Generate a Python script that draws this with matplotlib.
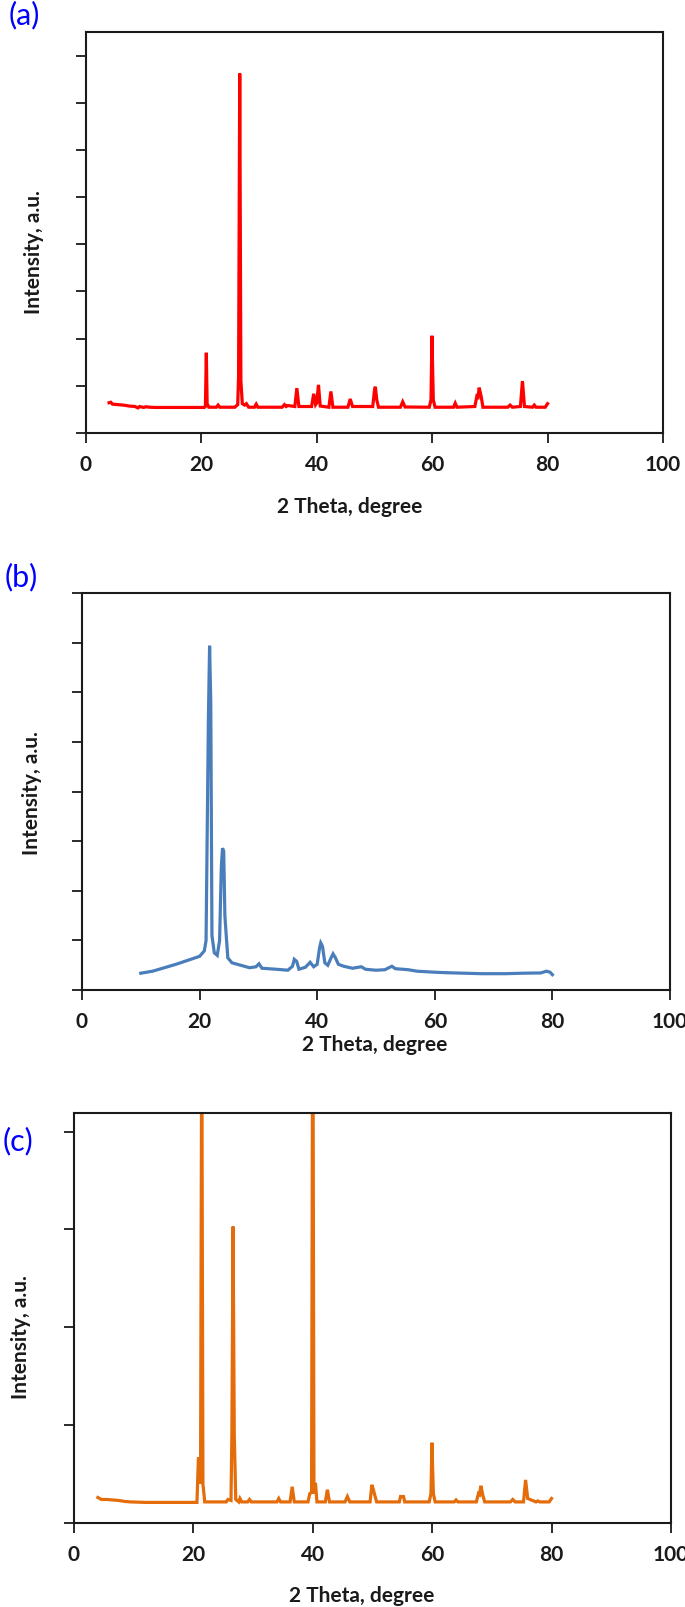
import matplotlib
matplotlib.use("Agg")
import matplotlib.pyplot as plt

plt.rcParams['font.family'] = ['Lato', 'DejaVu Sans']

# (a) sample 1 - XRD pattern (2 theta, intensity in counts, 1 tick = 1000)
theta_a = [4.0, 4.3, 4.6, 5.5, 6.5, 7.5, 8.5, 9.0, 9.3, 10.0, 10.4, 11.0, 12.0, 15.0, 18.0,
           20.5, 20.7, 20.86, 21.0, 21.3, 22.6, 22.9, 23.2, 25.8, 26.3, 26.45, 26.65, 26.85,
           27.1, 27.5, 27.8, 28.2, 29.2, 29.5, 29.8, 34.0, 34.4, 34.7, 35.0, 36.2, 36.55,
           36.9, 39.1, 39.47, 39.8, 40.0, 40.3, 40.6, 42.1, 42.45, 42.8, 45.4, 45.8, 46.2,
           49.7, 50.0, 50.15, 50.4, 50.7, 54.5, 54.9, 55.3, 59.5, 59.8, 59.96, 60.2, 60.5,
           63.7, 64.0, 64.3, 67.4, 67.75, 67.95, 68.15, 68.5, 68.8, 73.1, 73.5, 73.9, 75.3,
           75.65, 76.0, 77.4, 77.7, 78.0, 79.6, 80.0]
inten_a = [640, 650, 610, 600, 590, 570, 560, 530, 560, 540, 555, 545, 540, 540, 540,
           540, 560, 1700, 620, 545, 545, 590, 545, 545, 600, 1200, 7620, 1100,
           620, 590, 620, 545, 545, 610, 545, 545, 600, 560, 580, 560, 950,
           560, 560, 830, 600, 640, 1020, 570, 545, 880, 545, 545, 720, 560,
           560, 900, 980, 700, 545, 545, 660, 550, 545, 700, 2060, 700, 545,
           545, 630, 545, 560, 780, 760, 960, 770, 545, 545, 590, 545, 560,
           1100, 560, 545, 590, 545, 545, 620]

# (b) sample 2
theta_b = [10.0, 12.0, 14.0, 16.0, 18.0, 20.0, 20.8, 21.1, 21.5, 21.7, 21.9, 22.1, 22.5,
           23.0, 23.4, 23.7, 23.9, 24.1, 24.3, 24.5, 24.8, 25.5, 27.0, 28.5, 29.6, 30.1,
           30.6, 33.0, 35.0, 35.8, 36.1, 36.5, 36.9, 38.0, 38.8, 39.4, 40.0, 40.4, 40.6,
           40.9, 41.3, 41.8, 42.4, 42.7, 43.1, 43.6, 44.5, 46.0, 47.5, 48.2, 50.0, 51.5,
           52.7, 53.3, 54.5, 55.5, 57.0, 60.0, 62.0, 65.0, 68.0, 72.0, 75.0, 78.0, 79.0,
           79.6, 80.0]
inten_b = [340, 380, 450, 520, 600, 680, 790, 1000, 5500, 6940, 5800, 1100, 750,
           700, 1000, 2500, 2860, 2800, 1500, 1150, 650, 550, 500, 450, 470, 530,
           440, 420, 400, 480, 620, 580, 420, 460, 560, 470, 520, 850, 950,
           880, 550, 500, 660, 730, 650, 520, 480, 440, 470, 420, 400, 410,
           480, 430, 420, 410, 380, 360, 350, 340, 330, 330, 340, 345, 380,
           360, 310]

# (c) sample 3
theta_c = [4.0, 4.3, 4.6, 5.5, 6.5, 7.5, 8.5, 9.5, 12.0, 15.0, 18.0, 20.6, 20.85, 21.0,
           21.2, 21.4, 21.6, 21.9, 25.5, 25.8, 26.3, 26.45, 26.65, 26.85, 27.1, 27.6,
           27.8, 28.1, 29.1, 29.4, 29.7, 34.0, 34.3, 34.6, 36.2, 36.55, 36.9, 39.2, 39.5,
           39.8, 40.0, 40.2, 40.45, 40.7, 42.1, 42.45, 42.8, 45.4, 45.8, 46.2, 49.6, 49.9,
           50.15, 50.4, 50.7, 54.5, 54.7, 55.2, 55.4, 59.5, 59.8, 59.96, 60.2, 60.5, 63.7,
           64.0, 64.3, 67.4, 67.75, 67.95, 68.15, 68.5, 68.8, 73.1, 73.5, 73.9, 75.3, 75.65,
           76.0, 77.4, 77.7, 78.0, 79.6, 80.0]
inten_c = [260, 250, 240, 240, 235, 230, 220, 215, 210, 210, 210, 210, 670, 640,
           400, 5200, 400, 215, 215, 240, 230, 900, 3030, 900, 240, 215,
           250, 215, 215, 240, 215, 215, 250, 215, 215, 370, 215, 215, 300,
           310, 6000, 300, 410, 215, 215, 340, 215, 215, 270, 215, 215, 390,
           340, 280, 215, 215, 270, 270, 215, 215, 300, 820, 300, 215, 215,
           235, 215, 215, 300, 290, 380, 280, 215, 215, 240, 215, 215, 440,
           250, 215, 225, 215, 215, 250]

x_ticks = [0, 20, 40, 60, 80, 100]

panels = [
    # label, x, y, color, axes rect, ylim top, ytick step, ylabel pos, xlabel pos, tag pos
    ("(a)", theta_a, inten_a, "#FF0000", [0.1255, 0.7306, 0.8423, 0.2495], 8500, 1000,
     (34, 252), (350, 507), (24, 15)),
    ("(b)", theta_b, inten_b, "#4A7EBB", [0.1197, 0.3839, 0.8584, 0.2470], 8000, 1000,
     (32, 793), (375, 1045), (21, 577)),
    ("(c)", theta_c, inten_c, "#E46C0A", [0.1080, 0.0523, 0.8715, 0.2551], 4190, 1000,
     (21, 1337), (362, 1596), (18, 1141)),
]

W, H = 685, 1607
fig = plt.figure(figsize=(W / 100, H / 100), dpi=100)

for tag, xs, ys, col, rect, ytop, ystep, ylab, xlab, tagpos in panels:
    ax = fig.add_axes(rect)
    ax.plot(xs, ys, color=col, linewidth=2.3, solid_joinstyle='miter')
    ax.set_xlim(0, 100)
    ax.set_ylim(0, ytop)
    ax.set_xticks(x_ticks)
    ax.set_yticks(list(range(0, int(ytop) + 1, ystep)))
    ax.set_yticklabels([])
    for lab in ax.get_xticklabels():
        lab.set_fontweight('bold')
    ax.tick_params(axis='x', direction='out', length=7, width=1.3, labelsize=15,
                   pad=9, colors='#1a1a1a')
    ax.tick_params(axis='y', direction='out', length=7, width=1.3, colors='#1a1a1a')
    for sp in ax.spines.values():
        sp.set_linewidth(1.5)
        sp.set_color('#1a1a1a')

    fig.text(ylab[0] / W, 1 - ylab[1] / H, "Intensity, a.u.", rotation=90,
             ha='center', va='center', fontsize=15, fontweight='bold', color='#1a1a1a')
    fig.text(xlab[0] / W, 1 - xlab[1] / H, "2 Theta, degree",
             ha='center', va='center', fontsize=15, fontweight='bold', color='#1a1a1a')
    fig.text(tagpos[0] / W, 1 - tagpos[1] / H, tag, ha='center', va='center',
             fontsize=22, color='#0000FF')

fig.savefig("out.png", dpi=100)
